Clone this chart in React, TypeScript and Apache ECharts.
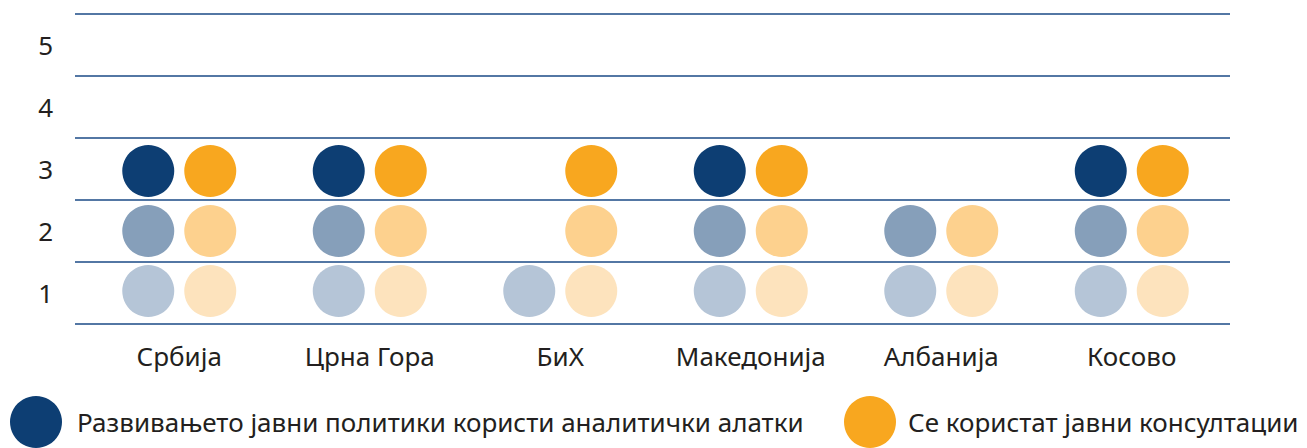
import React, { useEffect, useRef } from "react";
import * as echarts from "echarts";

const categories = ["Србија", "Црна Гора", "БиХ", "Македонија", "Албанија", "Косово"];
const levels = ["1", "2", "3", "4", "5"];
const analyticsValues = [3, 3, 1, 3, 2, 3];
const consultationValues = [3, 3, 3, 3, 2, 3];
const seriesNames = [
  "Развивањето јавни политики користи аналитички алатки",
  "Се користат јавни консултации",
];
const blueShades = ["#B5C5D7", "#869FBA", "#0D3E73"];
const orangeShades = ["#FDE3BD", "#FDD18E", "#F8A71F"];
const levelNudge = [-2, 0, 2];

const FONT = "Noto Sans";
const TEXT = "#231F20";

function buildPoints(values: number[], shades: string[], dx: number) {
  const pts: any[] = [];
  values.forEach((v, i) => {
    for (let l = 1; l <= v; l++) {
      pts.push({
        value: [i, l - 1],
        symbolOffset: [dx, levelNudge[l - 1]],
        itemStyle: { color: shades[l - 1], opacity: 1 },
      });
    }
  });
  return pts;
}

export default function App() {
  const ref = useRef<HTMLDivElement>(null);
  useEffect(() => {
    if (!ref.current) return;
    const chart = echarts.init(ref.current, null, { renderer: "svg" });
    const lineColor = "#1A4A86";
    chart.setOption({
      animation: false,
      backgroundColor: "#ffffff",
      grid: [
        { left: 75, right: 77, top: 14, bottom: 124 },
        { left: 84, right: 80, top: 14, bottom: 124 },
      ],
      xAxis: [
        { gridIndex: 0, type: "category", data: categories, show: false },
        {
          gridIndex: 1,
          type: "category",
          data: categories,
          boundaryGap: true,
          axisLine: { show: false },
          axisTick: { show: false },
          splitLine: { show: false },
          axisLabel: { color: TEXT, fontSize: 26, fontFamily: FONT, margin: 19, interval: 0 },
        },
      ],
      yAxis: [
        {
          gridIndex: 0,
          type: "category",
          data: levels,
          boundaryGap: true,
          axisLine: { show: false },
          axisTick: { show: false },
          splitLine: { show: true, lineStyle: { color: lineColor, width: 1.6 } },
          axisLabel: {
            color: TEXT,
            fontSize: 26,
            fontFamily: FONT,
            margin: 22,
            align: "right",
            interval: 0,
            padding: [10, 0, 0, 0],
          },
        },
        { gridIndex: 1, type: "category", data: levels, boundaryGap: true, show: false },
      ],
      legend: [
        {
          left: 10,
          top: 396,
          padding: 0,
          data: [seriesNames[0]],
          icon: "circle",
          itemWidth: 52,
          itemHeight: 52,
          textStyle: { color: TEXT, fontSize: 26, fontFamily: FONT, padding: [0, 0, 0, 10] },
        },
        {
          left: 844,
          top: 396,
          padding: 0,
          data: [seriesNames[1]],
          icon: "circle",
          itemWidth: 52,
          itemHeight: 52,
          textStyle: { color: TEXT, fontSize: 26, fontFamily: FONT, padding: [0, 0, 0, 7] },
        },
      ],
      series: [
        {
          name: seriesNames[0],
          type: "scatter",
          xAxisIndex: 1,
          yAxisIndex: 1,
          symbol: "circle",
          symbolSize: 52,
          itemStyle: { color: blueShades[2], opacity: 1 },
          data: buildPoints(analyticsValues, blueShades, -31),
        },
        {
          name: seriesNames[1],
          type: "scatter",
          xAxisIndex: 1,
          yAxisIndex: 1,
          symbol: "circle",
          symbolSize: 52,
          itemStyle: { color: orangeShades[2], opacity: 1 },
          data: buildPoints(consultationValues, orangeShades, 31),
        },
      ],
    });
    return () => chart.dispose();
  }, []);
  return <div ref={ref} style={{ width: 1307, height: 448, position: "absolute", left: 0, top: 0 }} />;
}
